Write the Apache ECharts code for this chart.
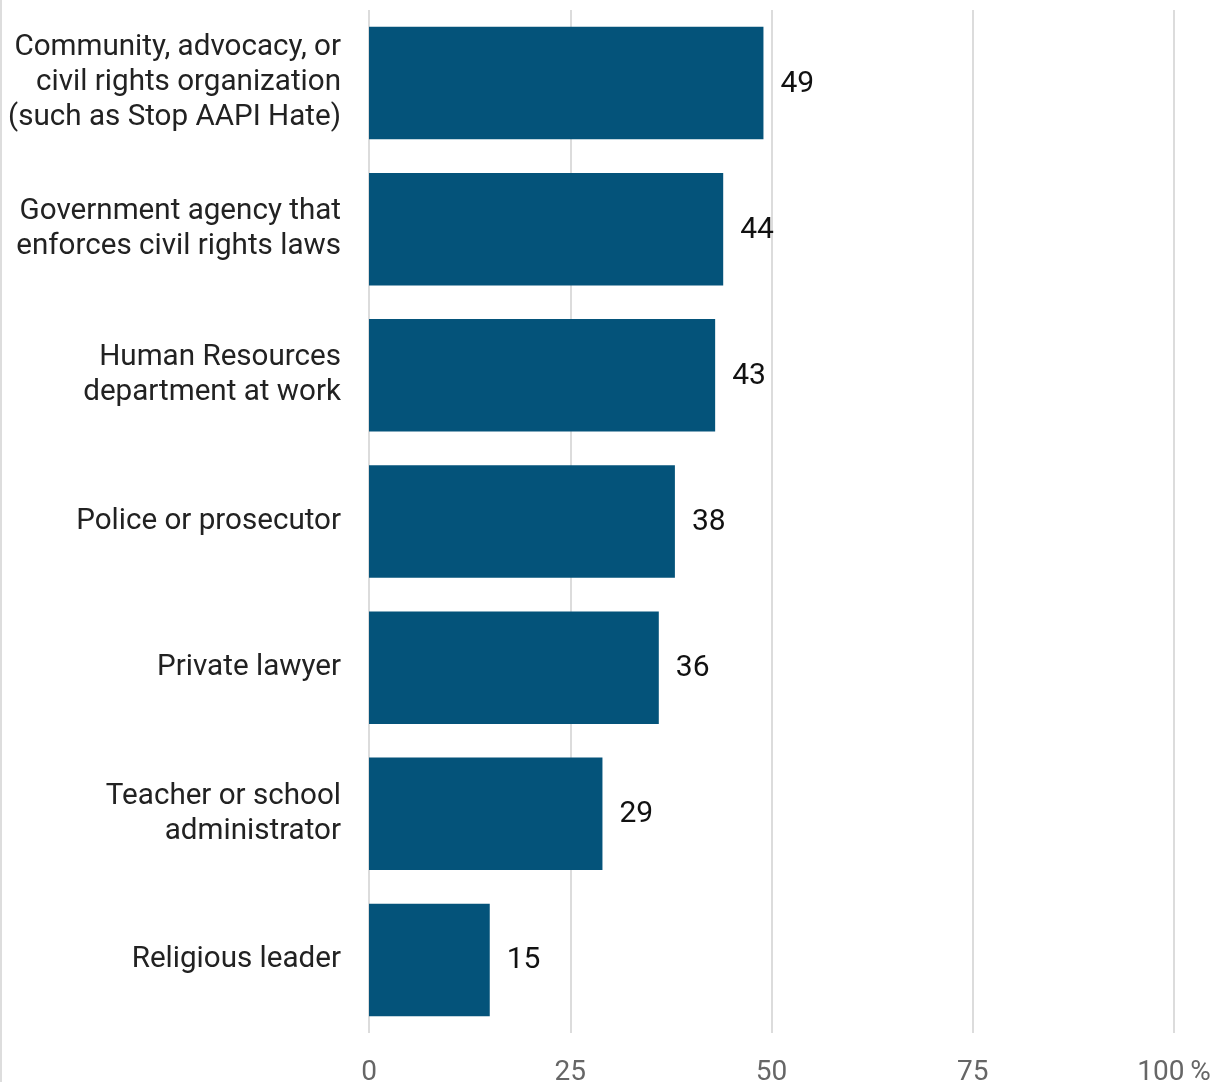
<!DOCTYPE html>
<html><head><meta charset="utf-8">
<script src="https://cdn.jsdelivr.net/npm/echarts@6/dist/echarts.min.js"></script>
<style>html,body{margin:0;padding:0;background:#fff}#c{width:1228px;height:1082px}</style>
</head><body><div id="c"></div>
<script>
const categories = [
  "Community, advocacy, or\ncivil rights organization\n(such as Stop AAPI Hate)",
  "Government agency that\nenforces civil rights laws",
  "Human Resources\ndepartment at work",
  "Police or prosecutor",
  "Private lawyer",
  "Teacher or school\nadministrator",
  "Religious leader"
];
const values = [49, 44, 43, 38, 36, 29, 15];
const xTicks = [0, 25, 50, 75, 100];

const chart = echarts.init(document.getElementById('c'), null, {renderer: 'canvas'});
chart.setOption({
  animation: false,
  backgroundColor: '#fff',
  textStyle: {fontFamily: 'Roboto'},
  graphic: [{
    type: 'line', shape: {x1: 1, y1: 0, x2: 1, y2: 1082},
    style: {stroke: '#dddddd', lineWidth: 2}, silent: true
  }],
  grid: {left: 369, right: 54, top: 10, bottom: 49, containLabel: false, outerBoundsMode: 'none'},
  xAxis: {
    type: 'value', min: 0, max: 100, interval: 25,
    axisLine: {show: false}, axisTick: {show: false},
    splitLine: {show: true, lineStyle: {color: '#dcdcdc', width: 2}},
    axisLabel: {
      margin: 26, fontSize: 28, color: '#666666', fontFamily: 'Roboto',
      formatter: v => xTicks.includes(v) ? (v === 100 ? '100\u2009%' : String(v)) : ''
    }
  },
  yAxis: {
    type: 'category', inverse: true, data: categories,
    axisLine: {show: false}, axisTick: {show: false},
    axisLabel: {margin: 28, fontSize: 29.6, lineHeight: 35, color: '#222222', align: 'right', fontFamily: 'Roboto'}
  },
  series: [{
    type: 'bar', data: values, barCategoryGap: '23%',
    itemStyle: {color: '#04537a'},
    label: {show: true, position: 'right', distance: 17, offset: [0, 1], fontSize: 30, color: '#111111', fontFamily: 'Roboto'}
  }]
});
</script></body></html>
